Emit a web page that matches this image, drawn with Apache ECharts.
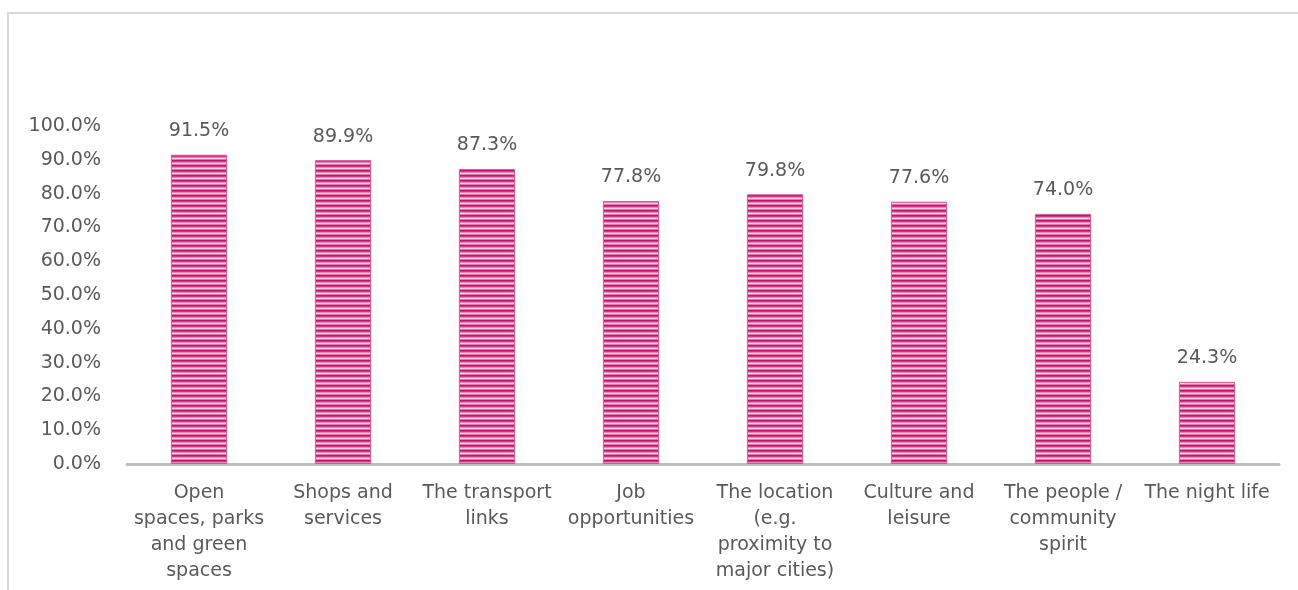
<!DOCTYPE html>
<html>
<head>
<meta charset="utf-8">
<script src="https://cdn.jsdelivr.net/npm/echarts@6/dist/echarts.min.js"></script>
<style>
html,body{margin:0;padding:0;background:#fff;overflow:hidden;width:1298px;height:590px;}
#frame{position:absolute;left:7px;top:12px;width:1291px;height:578px;border-left:2px solid #d9d9d9;border-top:2px solid #d9d9d9;box-sizing:border-box;}
#chart{position:absolute;left:0;top:0;width:1298px;height:590px;}
</style>
</head>
<body>
<div id="frame"></div>
<div id="chart"></div>
<script>
const categories = [
  "Open\nspaces, parks\nand green\nspaces",
  "Shops and\nservices",
  "The transport\nlinks",
  "Job\nopportunities",
  "The location\n(e.g.\nproximity to\nmajor cities)",
  "Culture and\nleisure",
  "The people /\ncommunity\nspirit",
  "The night life"
];
const values = [91.5, 89.9, 87.3, 77.8, 79.8, 77.6, 74.0, 24.3];

const pc = document.createElement('canvas');
pc.width = 8; pc.height = 5;
const ctx = pc.getContext('2d');
const rows = ['#c0136c', '#cf3a84', '#e987b8', '#f7cde2', '#e27aae'];
rows.forEach((c, i) => { ctx.fillStyle = c; ctx.fillRect(0, i, 8, 1); });

const chart = echarts.init(document.getElementById('chart'), null, {renderer: 'canvas'});
const font = '"DejaVu Sans", sans-serif';
const labelColor = '#595959';
chart.setOption({
  animation: false,
  grid: {left: 127, right: 19, top: 126, bottom: 126, containLabel: false},
  xAxis: {
    type: 'category',
    data: categories,
    axisLine: {lineStyle: {color: '#bfbfbf', width: 3}},
    axisTick: {show: false},
    axisLabel: {color: labelColor, fontSize: 19, fontFamily: font, lineHeight: 26, margin: 16, interval: 0}
  },
  yAxis: {
    type: 'value',
    min: 0, max: 100, interval: 10,
    axisLine: {show: false},
    axisTick: {show: false},
    splitLine: {show: false},
    axisLabel: {color: labelColor, fontSize: 19, fontFamily: font, margin: 26,
      formatter: v => v.toFixed(1) + '%'}
  },
  series: [{
    type: 'bar',
    data: values,
    barWidth: '39%',
    itemStyle: {color: {image: pc, repeat: 'repeat'}, borderColor: '#d8569a', borderWidth: 1},
    label: {show: true, position: 'top', distance: 14, color: labelColor, fontSize: 19, fontFamily: font,
      formatter: p => p.value.toFixed(1) + '%'}
  }]
});
</script>
</body>
</html>
